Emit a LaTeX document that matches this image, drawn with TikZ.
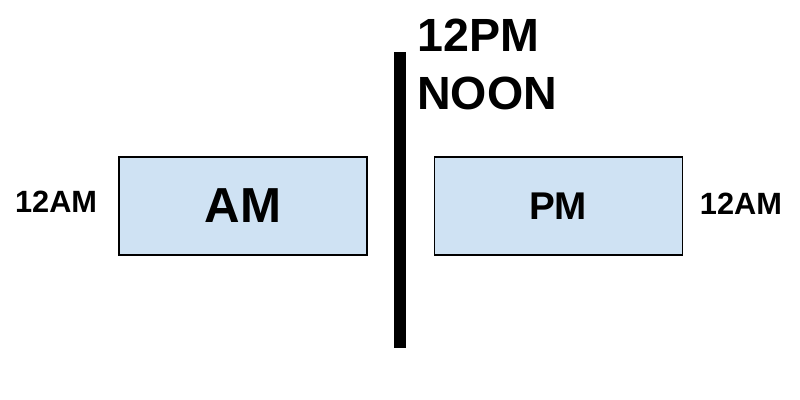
\documentclass[tikz,border=0pt]{standalone}
\usepackage{fontspec}
\setmainfont{Liberation Sans}
\definecolor{boxblue}{RGB}{207,226,243}
\usetikzlibrary{positioning}
\tikzset{
timebox/.style={draw=black, line width=0.6pt, fill=boxblue, minimum width=4.96cm, minimum height=1.96cm, inner sep=0pt}, % the AM and PM blocks
sidelabel/.style={inner sep=0pt, font=\fontsize{17.5}{20}\selectfont\bfseries}, % 12AM at both ends
noontext/.style={inner sep=0pt, font=\fontsize{26.5}{32}\selectfont\bfseries},
noonbar/.style={fill=black, minimum width=0.24cm, minimum height=5.92cm, inner sep=0pt},
}

\begin{document}
\begin{tikzpicture}
      \useasboundingbox (0,0) rectangle (16,8);
      \node[timebox, font=\fontsize{28}{32}\selectfont\bfseries] (am) at (4.86,3.88) {AM};
      \node[timebox, font=\fontsize{22}{26}\selectfont\bfseries, right=1.32cm of am] (pm) {PM};
      \node[noonbar] (noon) at (8,4) {};
      \node[sidelabel, left=0.42cm of am, yshift=0.08cm] (startam) {12AM};
      \node[sidelabel, right=0.34cm of pm, yshift=0.04cm] (endam) {12AM};
      \node[noontext, anchor=base west] (twelvepm) at (8.34,6.96) {12PM};
      \node[noontext, anchor=base west] (noonlabel) at (8.34,5.8) {NOON};
    \end{tikzpicture}
\end{document}
